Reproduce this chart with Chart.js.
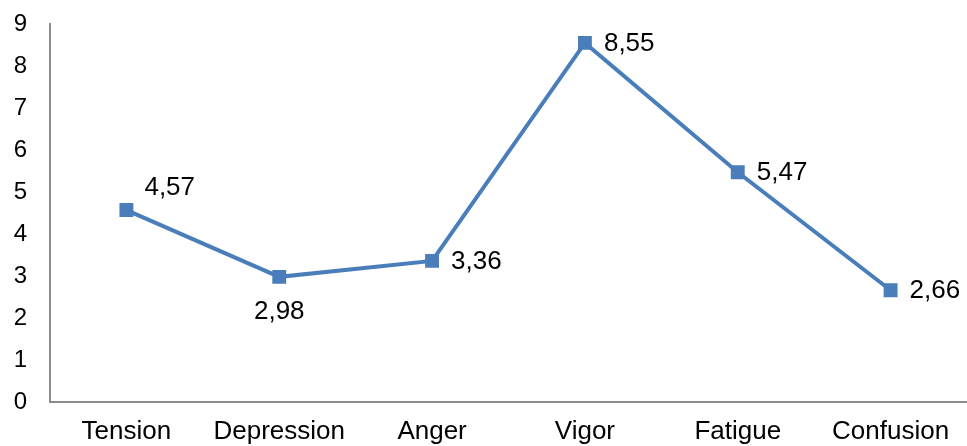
<!DOCTYPE html>
<html>
<head>
<meta charset="utf-8">
<script src="https://cdn.jsdelivr.net/npm/chart.js@4/dist/chart.umd.min.js"></script>
<style>
  body { margin: 0; background: #fff; }
  canvas { display: block; }
</style>
</head>
<body>
<canvas id="chart" width="967" height="446"></canvas>
<script>
const categories = ["Tension", "Depression", "Anger", "Vigor", "Fatigue", "Confusion"];
const values = [4.57, 2.98, 3.36, 8.55, 5.47, 2.66];
const yTicks = [0, 1, 2, 3, 4, 5, 6, 7, 8, 9];
// where each value label sits relative to its point
const labelPlaces = ["aboveRight", "below", "right", "right", "right", "right"];

const lineColor = "#4a7ebb";
const fontFamily = "'Liberation Sans', Arial, sans-serif";

// draws the value labels (with decimal commas) next to each point
const valueLabels = {
  id: "valueLabels",
  afterDatasetsDraw(chart) {
    const ctx = chart.ctx;
    const points = chart.getDatasetMeta(0).data;
    ctx.save();
    ctx.font = "26px " + fontFamily;
    ctx.fillStyle = "#000";
    ctx.textBaseline = "middle";
    points.forEach((pt, i) => {
      const text = values[i].toFixed(2).replace(".", ",");
      let x = pt.x, y = pt.y;
      if (labelPlaces[i] === "below") {
        ctx.textAlign = "center";
        y += 35;
      } else if (labelPlaces[i] === "aboveRight") {
        ctx.textAlign = "left";
        x += 18;
        y -= 22;
      } else {
        ctx.textAlign = "left";
        x += 19;
        y += 1;
      }
      ctx.fillText(text, x, y);
    });
    ctx.restore();
  }
};

new Chart(document.getElementById("chart"), {
  type: "line",
  data: {
    labels: categories,
    datasets: [{
      data: values,
      borderColor: lineColor,
      backgroundColor: lineColor,
      borderWidth: 4,
      pointStyle: "rect",
      pointRadius: 7,
      pointHoverRadius: 7,
      tension: 0,
      fill: false
    }]
  },
  options: {
    responsive: false,
    animation: false,
    layout: { autoPadding: false, padding: { top: 24, right: 0, left: 0, bottom: 0 } },
    plugins: {
      legend: { display: false },
      tooltip: { enabled: false }
    },
    scales: {
      x: {
        offset: true,
        grid: { display: false, drawTicks: false },
        border: { display: true, color: "#8c8c8c", width: 2 },
        ticks: {
          color: "#000",
          font: { size: 26, family: fontFamily },
          padding: 14,
          maxRotation: 0,
          autoSkip: false
        },
        afterFit(scale) {
          scale.height = 44;
          scale.paddingLeft = 0;
          scale.paddingRight = 0;
        }
      },
      y: {
        min: 0,
        max: 9,
        grid: { display: false, drawTicks: false },
        border: { display: true, color: "#8c8c8c", width: 2 },
        afterBuildTicks(scale) { scale.ticks = yTicks.map(v => ({ value: v })); },
        ticks: {
          color: "#000",
          font: { size: 24, family: fontFamily },
          padding: 23
        },
        afterFit(scale) {
          scale.width = 50;
          scale.paddingTop = 0;
          scale.paddingBottom = 0;
        }
      }
    }
  },
  plugins: [valueLabels]
});
</script>
</body>
</html>
